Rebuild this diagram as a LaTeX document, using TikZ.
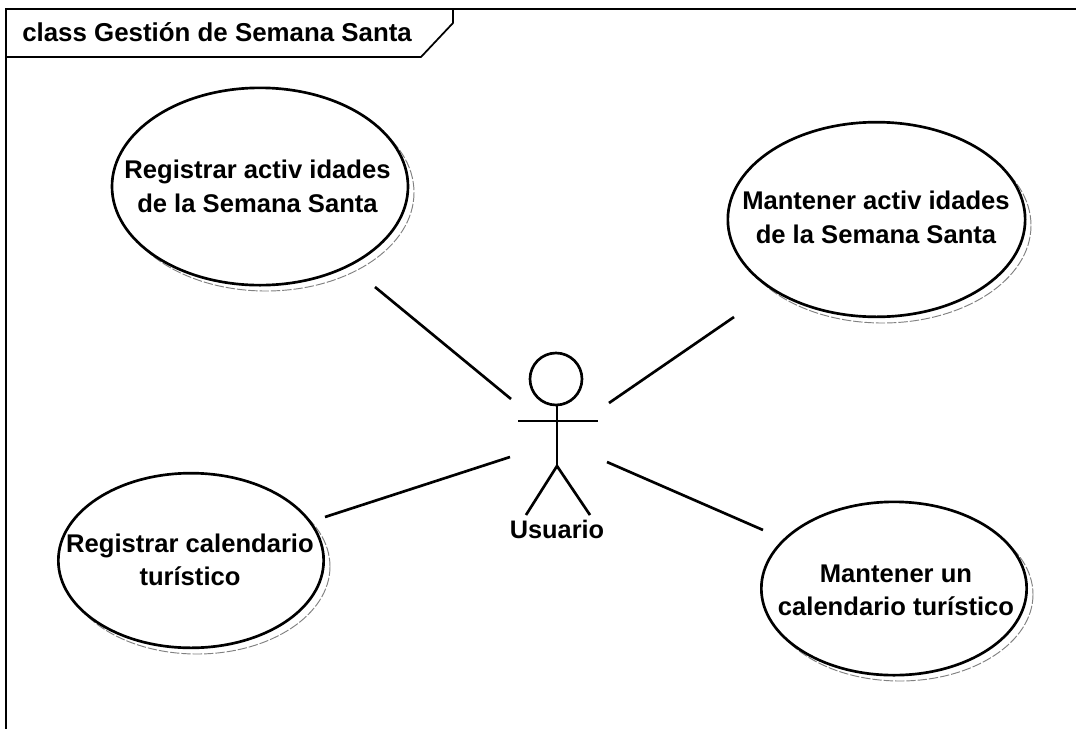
\documentclass[tikz,border=0pt]{standalone}
\usepackage{fontspec}
\setmainfont{Liberation Sans}
\usetikzlibrary{shapes.geometric}
\tikzset{
  px/.style={x=0.75pt,y=-0.75pt},
  uc/.style={ellipse,draw=black,line width=2pt,fill=white,inner sep=0pt},
  uctext/.style={inner sep=0pt,align=center,font=\fontsize{19.2}{25}\selectfont\bfseries},
  shade/.style={line width=0.7pt,draw=black!50,dash pattern=on 7pt off 1.5pt},
  ln/.style={line width=2pt,draw=black},
  frameln/.style={line width=1.3pt,draw=black}
}
\begin{document}
\begin{tikzpicture}[px]
\useasboundingbox (0,0) rectangle (1076,729);
\fill[white] (0,0) rectangle (1076,729);
\coordinate (f0) at (6,729); \coordinate (f00) at (6,9); \coordinate (fe) at (1076,9);
\coordinate (f1) at (6,57); \coordinate (f2) at (421,57); \coordinate (f3) at (453,23); \coordinate (f4) at (453,9);
\draw[frameln] (f0) -- (f00) -- (fe);
\draw[frameln] (f1) -- (f2) -- (f3) -- (f4);
\node[anchor=west,font=\fontsize{19.4}{22}\selectfont\bfseries,inner sep=0pt] (title) at (22,32) {class Gestión de Semana Santa};
% shadows
\foreach \cx/\cy/\rx/\ry in {260/186.5/148/98.5, 876.5/219.5/148.5/97.5, 191/560.5/133/87.5, 894/588.5/133/86.5}
  \draw[shade] (\cx+6,\cy+6) ellipse [x radius=\rx, y radius=\ry];
\node[uc,minimum width=222pt,minimum height=148pt] (a) at (260,186.5) {};
\node[uc,minimum width=223pt,minimum height=146pt] (b) at (876.5,219.5) {};
\node[uc,minimum width=199pt,minimum height=131pt] (c) at (191,560.5) {};
\node[uc,minimum width=199pt,minimum height=130pt] (d) at (894,588.5) {};
\node[uctext] (at) at (257.5,186.5) {Registrar activ idades\\de la Semana Santa};
\node[uctext] (bt) at (876,217.5) {Mantener activ idades\\de la Semana Santa};
\node[uctext] (ct) at (190,560) {Registrar calendario\\turístico};
\node[uctext] (dt) at (896,590) {Mantener un\\calendario turístico};
% actor
\node[circle,draw,line width=2pt,minimum size=39pt,inner sep=0pt] (head) at (556,379) {};
\coordinate (neck) at (557,405);
\coordinate (hip) at (557,466);
\coordinate (la) at (518,421); \coordinate (ra) at (598,421);
\coordinate (ll) at (526,515); \coordinate (rl) at (590,515);
\draw[ln] (neck) -- (hip);
\draw[ln] (la) -- (ra);
\draw[ln] (ll) -- (hip) -- (rl);
\node[font=\fontsize{19}{22}\selectfont\bfseries,inner sep=0pt] (u) at (557,529) {Usuario};
% connectors
\coordinate (a1) at (375,287); \coordinate (a2) at (511,399);
\coordinate (b1) at (734,317); \coordinate (b2) at (609,403);
\coordinate (c1) at (325,517); \coordinate (c2) at (510,457);
\coordinate (d1) at (763,530); \coordinate (d2) at (607,462);
\draw[ln] (a1) -- (a2);
\draw[ln] (b1) -- (b2);
\draw[ln] (c1) -- (c2);
\draw[ln] (d1) -- (d2);
\end{tikzpicture}
\end{document}
